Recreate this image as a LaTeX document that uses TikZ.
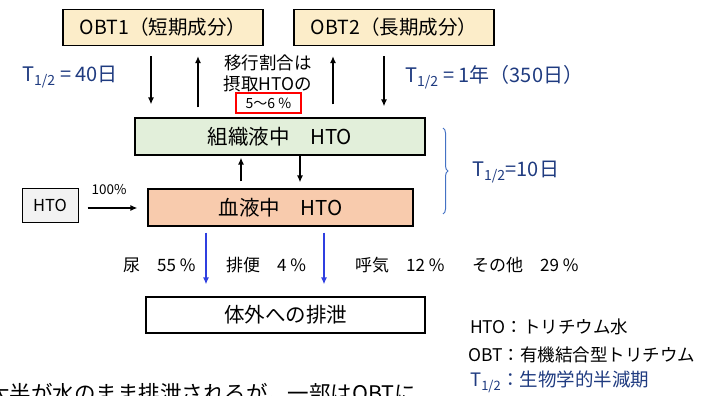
\documentclass[tikz,border=0pt]{standalone}
\usepackage{fontspec}
\setmainfont{Noto Sans CJK JP}
\usepackage{xcolor}
\usetikzlibrary{arrows.meta,decorations.pathreplacing}
\definecolor{obtfill}{HTML}{FCEDC9}
\definecolor{tisfill}{HTML}{E2EFDA}
\definecolor{bldfill}{HTML}{F8CBAD}
\definecolor{htofill}{HTML}{F2F2F2}
\definecolor{halfblue}{HTML}{1F3B80}
\definecolor{bracblue}{HTML}{4472C4}
\definecolor{exblue}{HTML}{2F3FE0}
\begin{document}
\begin{tikzpicture}[x=1pt,y=-1pt]
	\tikzstyle{every node}+=[inner sep=0pt]
	\tikzstyle{box}=[draw=black, line width=1.2pt, font=\fontsize{20.5}{22}\selectfont]
	\tikzstyle{arr}=[black, line width=1.3pt, -{Latex[length=7pt,width=6pt]}]
	\tikzstyle{exarr}=[exblue, line width=1.3pt, -{Latex[length=7pt,width=6pt]}]
	\tikzstyle{half}=[halfblue, anchor=west, font=\fontsize{20}{22}\selectfont]
	\tikzstyle{lbl}=[anchor=west, font=\fontsize{17}{19}\selectfont]
	\clip (0,0) rectangle (713,396);
	\node [box, fill=obtfill, minimum width=200pt, minimum height=36pt, font=\fontsize{19.5}{22}\selectfont] (obt1) at (163,27.5) {OBT1（短期成分）};
	\node [box, fill=obtfill, minimum width=200pt, minimum height=36pt, font=\fontsize{19.5}{22}\selectfont] (obt2) at (394,27.5) {OBT2（長期成分）};
	\node [box, fill=tisfill, minimum width=290pt, minimum height=37pt] (tis) at (280,136.5) {組織液中　HTO};
	\node [box, fill=bldfill, minimum width=265pt, minimum height=37pt] (blood) at (280.5,207.5) {血液中　HTO};
	\node [box, fill=htofill, line width=1pt, minimum width=56pt, minimum height=34pt, font=\fontsize{16.5}{18}\selectfont] (hto) at (50,205) {HTO};
	\node [box, fill=white, minimum width=279pt, minimum height=36pt] (out) at (285.5,315) {体外への排泄};
	\node [font=\fontsize{17.5}{19}\selectfont] (rate1) at (268,63) {移行割合は};
	\node [font=\fontsize{17.5}{19}\selectfont] (rate2) at (268,84) {摂取HTOの};
	\node [draw=red, line width=1.3pt, minimum width=65pt, minimum height=20pt, font=\fontsize{14}{16}\selectfont] (rate3) at (268.5,103) {5～6 \%};
	\node [half] (t1) at (22,77) {T\textsubscript{1/2} = 40日};
	\node [half] (t2) at (405,77) {T\textsubscript{1/2} = 1年（350日）};
	\node [half] (t3) at (472,172) {T\textsubscript{1/2}=10日};
	\node [font=\fontsize{13.5}{15}\selectfont] (pct) at (109,190) {100\%};
	\node [lbl] (urine) at (123,265) {尿　55 \%};
	\node [lbl] (feces) at (226,265) {排便　4 \%};
	\node [lbl] (breath) at (355,265) {呼気　12 \%};
	\node [lbl] (other) at (472,265) {その他　29 \%};
	\node [lbl, font=\fontsize{17.5}{19}\selectfont] (key1) at (470,327) {HTO：トリチウム水};
	\node [lbl, font=\fontsize{17.5}{19}\selectfont] (key2) at (468,355) {OBT：有機結合型トリチウム};
	\node [lbl, text=halfblue, font=\fontsize{18.5}{20}\selectfont] (key3) at (470,382) {T\textsubscript{1/2}：生物学的半減期};
	\node [anchor=north west, font=\fontsize{21.5}{24}\selectfont] (note) at (-12,383) {大半が水のまま排泄されるが，一部はOBTに};
	\draw [arr, shorten <=10pt, shorten >=13pt] ([xshift=-12pt]obt1.south) -- ([xshift=-12pt]obt1.south |- tis.north);
	\draw [arr, shorten <=10pt, shorten >=10pt] ([xshift=35pt]obt1.south |- tis.north) -- ([xshift=35pt]obt1.south);
	\draw [arr, shorten <=13pt, shorten >=10pt] ([xshift=-61pt]obt2.south |- tis.north) -- ([xshift=-61pt]obt2.south);
	\draw [arr, shorten <=10pt, shorten >=11pt] ([xshift=-10pt]obt2.south) -- ([xshift=-10pt]obt2.south |- tis.north);
	\draw [arr, shorten <=7pt, shorten >=2pt] ([xshift=-39pt]tis.south |- blood.north) -- ([xshift=-39pt]tis.south);
	\draw [arr, shorten >=6pt] ([xshift=20pt]tis.south) -- ([xshift=20pt]tis.south |- blood.north);
	\draw [arr, shorten <=9pt, shorten >=10pt] (hto.east |- 0,208) -- (blood.west |- 0,208);
	\draw [exarr, shorten <=6pt, shorten >=12pt] ([xshift=-74.5pt]blood.south) -- ([xshift=-74.5pt]blood.south |- out.north);
	\draw [exarr, shorten <=6pt, shorten >=12pt] ([xshift=43.5pt]blood.south) -- ([xshift=43.5pt]blood.south |- out.north);
	\draw [bracblue, line width=1pt, decorate, decoration={brace, amplitude=5pt}] (443,128) -- (443,214);
\end{tikzpicture}
\end{document}
